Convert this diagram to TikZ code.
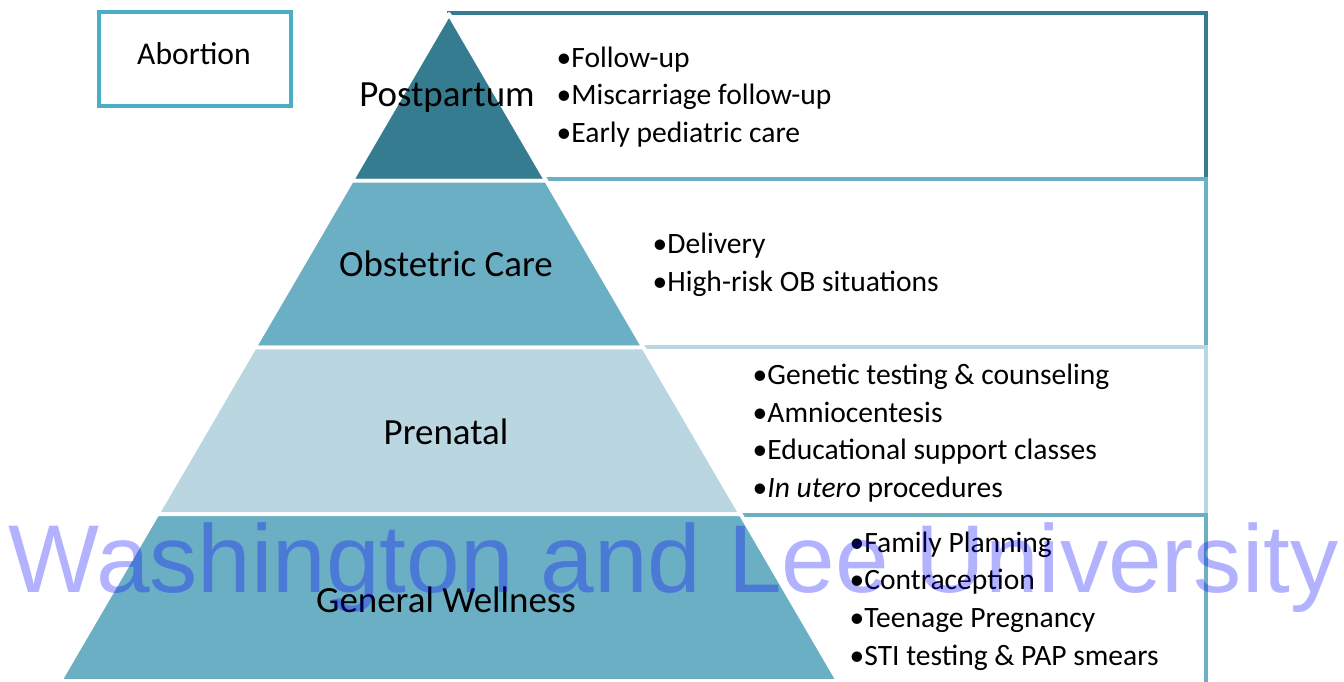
\documentclass[tikz,border=0pt]{standalone}
\usepackage{fontspec}
\setmainfont{Carlito}
\newfontfamily\wlfont{Liberation Sans}
\usetikzlibrary{calc}
\definecolor{tdark}{HTML}{367C90}
\definecolor{tmid}{HTML}{6BAFC5}
\definecolor{tlight}{HTML}{BAD7E1}
\definecolor{abline}{HTML}{4BACC6}
\begin{document}
\begin{tikzpicture}[x=0.01cm,y=-0.01cm,
    tier/.style={fill=#1,draw=white,line width=1.1pt,line join=round},
    itembox/.style={draw=#1,fill=white,line width=1.3pt},
    lbl/.style={font=\fontsize{10.5}{12}\selectfont,inner sep=0},
    items/.style={font=\fontsize{8.4}{10.7}\selectfont,align=left,anchor=west,inner sep=0}]
  \useasboundingbox (0,0) rectangle (1344,681);
  \coordinate (top) at (449,14);\coordinate (l) at (60,681);\coordinate (r) at (838,681);
  % boxes on the right, behind the pyramid
  \draw[itembox=tdark] (449,13) rectangle (1206,179);
  \draw[itembox=tmid] (449,179) rectangle (1206,347);
  \draw[itembox=tlight] (449,347) rectangle (1206,515);
  \draw[itembox=tmid] (449,515) rectangle (1206,700);
  % pyramid
  \draw[tier=tdark] (top)--($(top)!.25!(r)$)--($(top)!.25!(l)$)--cycle;
  \draw[tier=tmid] ($(top)!.25!(l)$)--($(top)!.25!(r)$)--($(top)!.5!(r)$)--($(top)!.5!(l)$)--cycle;
  \draw[tier=tlight] ($(top)!.5!(l)$)--($(top)!.5!(r)$)--($(top)!.75!(r)$)--($(top)!.75!(l)$)--cycle;
  \draw[tier=tmid] ($(top)!.75!(l)$)--($(top)!.75!(r)$)--(r)--(l)--cycle;
  \node[lbl] (Pp) at (447,98) {Postpartum};
  \node[lbl] (Ob) at (446,264) {Obstetric Care};
  \node[lbl] (Pn) at (446,432) {Prenatal};
  \node[lbl] (Gw) at (446,600) {General Wellness};
  \node[items] (Ppl) at (556,97) {•Follow-up\\•Miscarriage follow-up\\•Early pediatric care};
  \node[items] (Obl) at (652,265) {•Delivery\\•High-risk OB situations};
  \node[items] (Pnl) at (752,433) {•Genetic testing \& counseling\\•Amniocentesis\\•Educational support classes\\•\textit{In utero} procedures};
  \node[items] (Gwl) at (849,601) {•Family Planning\\•Contraception\\•Teenage Pregnancy\\•STI testing \& PAP smears};
  % abortion
  \draw[abline,line width=1.15pt] (99,12) rectangle (291,106);
  \node[font=\fontsize{9}{11}\selectfont,inner sep=0] (Ab) at (194,54) {Abortion};
  % watermark
  \node[font=\wlfont\fontsize{27.4}{30}\selectfont,text=blue,text opacity=.3,anchor=base west,inner sep=0] (wm) at (8,592) {Washington and Lee University};
\end{tikzpicture}
\end{document}
